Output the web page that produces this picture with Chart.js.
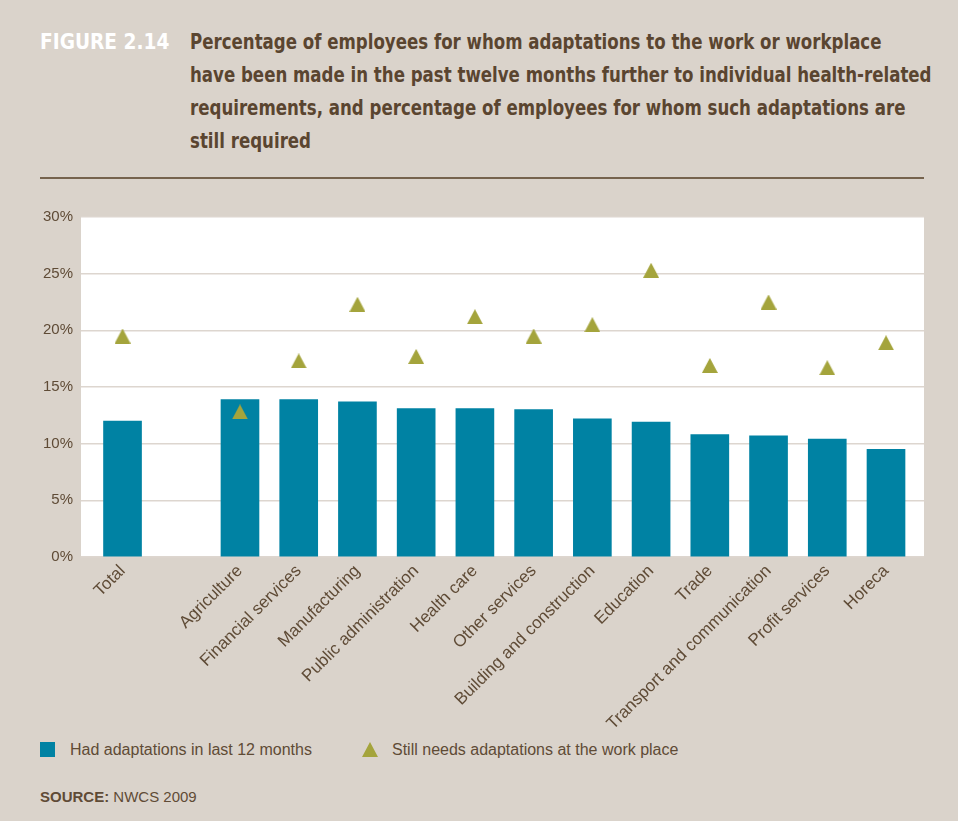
<!DOCTYPE html>
<html>
<head>
<meta charset="utf-8">
<script src="https://cdn.jsdelivr.net/npm/chart.js@4.4.1/dist/chart.umd.min.js"></script>
<style>
  body { margin: 0; width: 958px; height: 821px; background: #dad3cb; overflow: hidden; position: relative; font-family: "Liberation Sans", Arial, sans-serif; color: #5f4b36; }
  .fig, .title { position: absolute; top: 25px; white-space: nowrap; transform-origin: left top;
    font: bold 22px/33px "DejaVu Sans Condensed", "DejaVu Sans", sans-serif; }
  .fig { left: 40px; color: #ffffff; transform: scaleX(0.94); }
  .title { left: 190px; color: #5a4530; transform: scaleX(0.84); }
  .rule { position: absolute; left: 40px; top: 177px; width: 884px; height: 2px; background: #76634e; }
  #box { position: absolute; left: 0; top: 200px; width: 958px; height: 530px; }
  .legend { position: absolute; top: 741px; left: 40px; font-size: 16px; line-height: 18px; }
  .legend span { position: absolute; white-space: nowrap; }
  .sq { width: 15px; height: 15px; background: #0082a3; top: 1px; }
  .tri { width: 0; height: 0; border-left: 8px solid transparent; border-right: 8px solid transparent; border-bottom: 15px solid #a4a43c; top: 1px; }
  .source { position: absolute; left: 40px; top: 788px; font-size: 15px; line-height: 18px; }
</style>
</head>
<body>
<div class="fig">FIGURE 2.14</div>
<div class="title">Percentage of employees for whom adaptations to the work or workplace<br>have been made in the past twelve months further to individual health-related<br>requirements, and percentage of employees for whom such adaptations are<br>still required</div>
<div class="rule"></div>
<div id="box"><canvas id="grafico" width="958" height="530"></canvas></div>
<div class="legend">
  <span class="sq" style="left:0"></span>
  <span style="left:30px">Had adaptations in last 12 months</span>
  <span class="tri" style="left:322px"></span>
  <span style="left:352px">Still needs adaptations at the work place</span>
</div>
<div class="source"><b>SOURCE:</b> NWCS 2009</div>

<script>
// categorias (a vazia separa o total dos setores)
const setores = ['Total', '', 'Agriculture', 'Financial services', 'Manufacturing', 'Public administration',
  'Health care', 'Other services', 'Building and construction', 'Education', 'Trade',
  'Transport and communication', 'Profit services', 'Horeca']
const adaptados = [12.0, null, 13.9, 13.9, 13.7, 13.1, 13.1, 13.0, 12.2, 11.9, 10.8, 10.7, 10.4, 9.5]
const precisam = [19.5, null, 12.8, 17.3, 22.3, 17.7, 21.2, 19.5, 20.5, 25.3, 16.9, 22.5, 16.7, 18.9]
const ticksY = [0, 5, 10, 15, 20, 25, 30]

const corTexto = '#5f4b36'

// triangulo usado como marcador
const triangulo = document.createElement('canvas')
triangulo.width = 16
triangulo.height = 15
const tctx = triangulo.getContext('2d')
tctx.fillStyle = '#a4a43c'
tctx.beginPath()
tctx.moveTo(8, 0)
tctx.lineTo(16, 15)
tctx.lineTo(0, 15)
tctx.closePath()
tctx.fill()

const fundoBranco = {
  id: 'fundoBranco',
  beforeDraw(chart) {
    const a = chart.chartArea
    chart.ctx.save()
    chart.ctx.fillStyle = '#ffffff'
    chart.ctx.fillRect(a.left, a.top, a.right - a.left, a.bottom - a.top)
    chart.ctx.restore()
  }
}

const pontos = (vet) => vet.map((v, i) => ({ x: i, y: v })).filter(p => p.y !== null)

new Chart(document.getElementById('grafico'), {
  type: 'bar',
  data: {
    datasets: [{
      type: 'line',
      label: 'Still needs adaptations at the work place',
      data: pontos(precisam),
      showLine: false,
      pointStyle: triangulo,
      pointRadius: 8,
      order: 0
    }, {
      label: 'Had adaptations in last 12 months',
      data: pontos(adaptados),
      backgroundColor: '#0082a3',
      barThickness: 38,
      order: 1
    }]
  },
  options: {
    responsive: false,
    animation: false,
    layout: { padding: { top: 17, right: 34, left: 0, bottom: 0 } },
    plugins: { legend: { display: false }, tooltip: { enabled: false } },
    scales: {
      x: {
        type: 'linear',
        offset: false,
        min: -0.707,
        max: 13.647,
        grid: { display: false },
        border: { display: false },
        afterBuildTicks: (s) => { s.ticks = setores.map((c, i) => ({ value: i })) },
        afterFit: (s) => { s.height = 173 },
        ticks: {
          autoSkip: false,
          minRotation: 45,
          maxRotation: 45,
          padding: -4,
          color: corTexto,
          font: { family: 'Liberation Sans', size: 17 },
          callback: (v) => setores[v]
        }
      },
      y: {
        min: 0,
        max: 30,
        afterBuildTicks: (s) => { s.ticks = ticksY.map(v => ({ value: v })) },
        afterFit: (s) => { s.width = 81 },
        grid: { color: '#ddd6cf', lineWidth: 1.5, drawTicks: false },
        border: { display: false },
        ticks: {
          padding: 8,
          color: corTexto,
          font: { family: 'Liberation Sans', size: 15 },
          callback: (v) => v + '%'
        }
      }
    }
  },
  plugins: [fundoBranco]
})
</script>
</body>
</html>
